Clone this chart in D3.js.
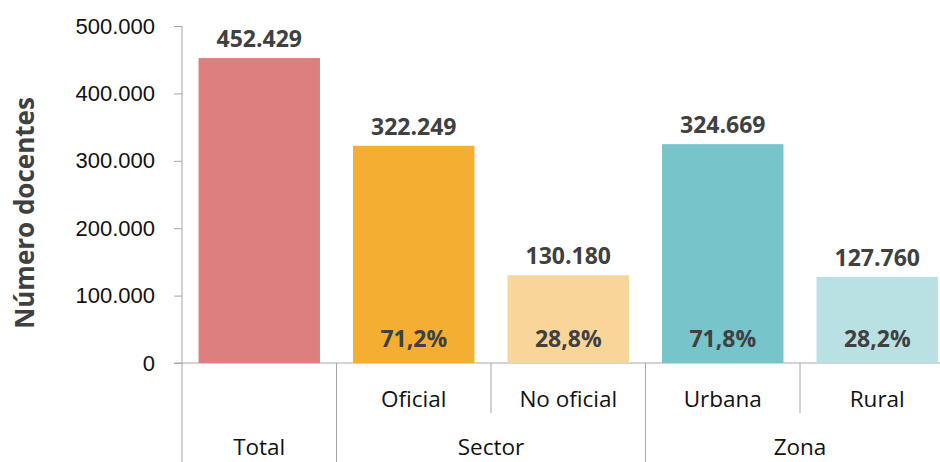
<!DOCTYPE html>
<html>
<head>
<meta charset="utf-8">
<script src="https://cdn.jsdelivr.net/npm/d3@7"></script>
<style>
  body { margin: 0; background: #fff; }
  svg { display: block; font-family: "Open Sans", "Noto Sans", sans-serif; }
  .axis path, .axis line { stroke: #a6a6a6; }
  .axis text { font-size: 22px; fill: #111; }
</style>
</head>
<body>
<div id="chart"></div>
<script>
// data
var categories = ["Total", "Oficial", "No oficial", "Urbana", "Rural"];
var subLabels = ["", "Oficial", "No oficial", "Urbana", "Rural"];
var groups = ["Total", "Sector", "Sector", "Zona", "Zona"];
var values = [452429, 322249, 130180, 324669, 127760];
var colors = ["#de7f7f", "#f4af33", "#f8d699", "#77c5cb", "#b9e1e4"];
var yTicks = [0, 100000, 200000, 300000, 400000, 500000];

var width = 940, height = 462;
var x0 = 182, y0 = 363, yTop = 26;

var locale = d3.formatLocale({decimal: ",", thousands: ".", grouping: [3], currency: ["", ""]});
var fmt = locale.format(",d");
var pctFmt = locale.format(".1f");

var svg = d3.select("#chart").append("svg")
  .attr("width", width)
  .attr("height", height);

var x = d3.scaleBand()
  .domain(categories)
  .range([x0, x0 + 5 * 154.5])
  .paddingInner(0.214)
  .paddingOuter(0.107);

var y = d3.scaleLinear()
  .domain([0, 500000])
  .range([y0, yTop]);

// Y axis
var yAxis = svg.append("g")
  .attr("class", "axis")
  .attr("transform", "translate(" + x0 + ",0)")
  .call(d3.axisLeft(y).tickValues(yTicks).tickFormat(fmt).tickSize(8).tickPadding(19).tickSizeOuter(0));
yAxis.select(".domain").remove();
yAxis.append("line")
  .attr("x1", 0).attr("x2", 0)
  .attr("y1", yTop).attr("y2", height)
  .attr("stroke", "#a6a6a6");

// baseline
svg.append("line")
  .attr("x1", x0 - 8).attr("x2", width)
  .attr("y1", y0).attr("y2", y0)
  .attr("stroke", "#a6a6a6");

// bars
var data = categories.map(function(c, i) {
  return {cat: c, value: values[i], color: colors[i], sub: subLabels[i], group: groups[i]};
});

svg.selectAll("rect.bar")
  .data(data)
  .enter()
  .append("rect")
    .attr("class", "bar")
    .attr("x", function(d) { return x(d.cat); })
    .attr("y", function(d) { return y(d.value); })
    .attr("width", x.bandwidth())
    .attr("height", function(d) { return y(0) - y(d.value); })
    .attr("fill", function(d) { return d.color; });

// value labels
svg.selectAll("text.val")
  .data(data)
  .enter()
  .append("text")
    .attr("class", "val")
    .attr("x", function(d) { return x(d.cat) + x.bandwidth() / 2; })
    .attr("y", function(d) { return y(d.value) - 11; })
    .attr("text-anchor", "middle")
    .style("font-size", "23px")
    .style("font-weight", "bold")
    .style("fill", "#404040")
    .text(function(d) { return fmt(d.value); });

// percentage of the group total
svg.selectAll("text.pct")
  .data(data.filter(function(d) { return d.group != "Total"; }))
  .enter()
  .append("text")
    .attr("class", "pct")
    .attr("x", function(d) { return x(d.cat) + x.bandwidth() / 2; })
    .attr("y", y0 - 16)
    .attr("text-anchor", "middle")
    .style("font-size", "23px")
    .style("font-weight", "bold")
    .style("fill", "#404040")
    .text(function(d) { return pctFmt(d.value / values[0] * 100) + "%"; });

// x axis: sub labels and separators
var step = x.step();
var bandStart = function(c) { return x(c) - x.paddingInner() * step / 2; };

data.forEach(function(d, i) {
  var left = bandStart(d.cat);
  if (i > 0) {
    var full = groups[i] != groups[i - 1];
    svg.append("line")
      .attr("x1", left).attr("x2", left)
      .attr("y1", y0).attr("y2", full ? height : 413)
      .attr("stroke", "#a6a6a6");
  }
  if (d.sub) {
    svg.append("text")
      .attr("x", left + step / 2)
      .attr("y", 407)
      .attr("text-anchor", "middle")
      .style("font-size", "22.5px")
      .style("fill", "#111")
      .text(d.sub);
  }
});

// group labels
var groupNames = ["Total", "Sector", "Zona"];
groupNames.forEach(function(g) {
  var members = data.filter(function(d) { return d.group == g; });
  var left = bandStart(members[0].cat);
  var right = bandStart(members[members.length - 1].cat) + step;
  svg.append("text")
    .attr("x", (left + right) / 2)
    .attr("y", 455)
    .attr("text-anchor", "middle")
    .style("font-size", "22.5px")
    .style("fill", "#111")
    .text(g);
});

// y axis title
svg.append("text")
  .attr("transform", "translate(34," + 213 + ")rotate(-90)")
  .attr("text-anchor", "middle")
  .style("font-size", "26px")
  .style("font-weight", "bold")
  .style("fill", "#404040")
  .text("Número docentes");
</script>
</body>
</html>
